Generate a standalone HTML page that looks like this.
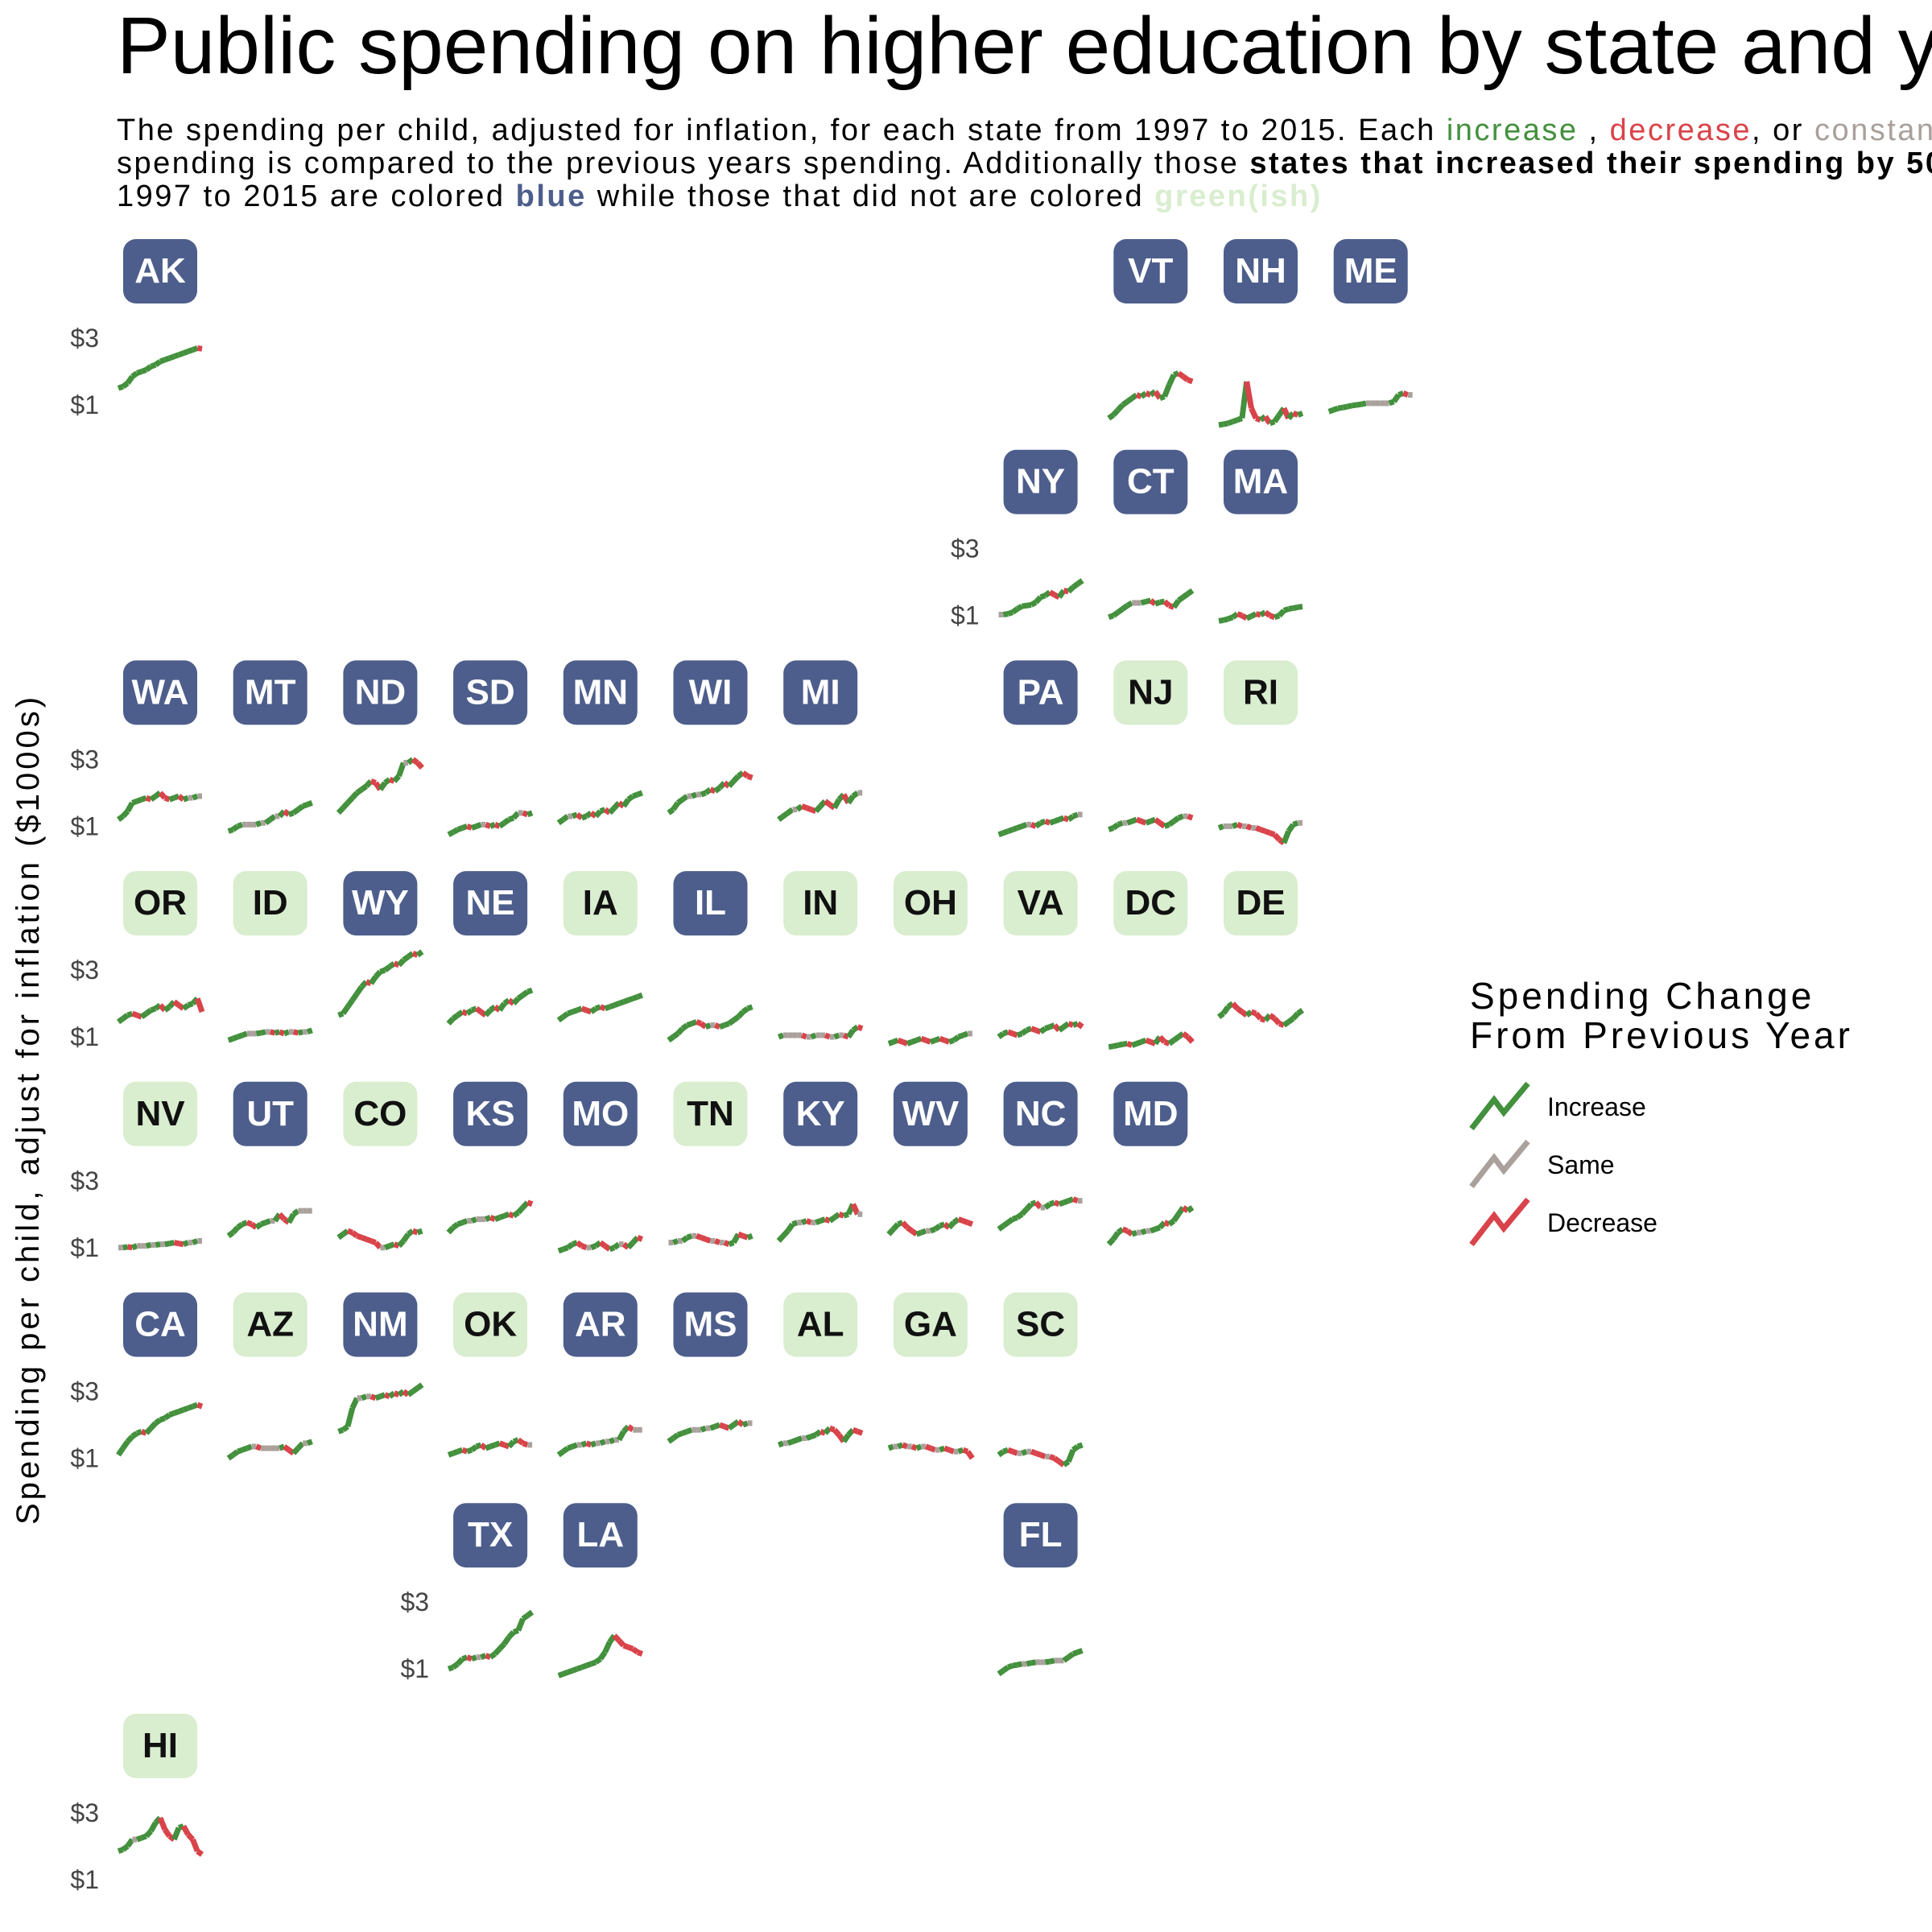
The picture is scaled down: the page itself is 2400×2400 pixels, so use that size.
<!DOCTYPE html>
<html><head><meta charset="utf-8">
<style>
html,body{margin:0;padding:0;background:#fff;}
body{width:2400px;height:2400px;overflow:hidden;position:relative;font-family:"Liberation Sans",sans-serif;}
#title{position:absolute;left:145px;top:0px;width:2255px;overflow:hidden;font-size:100px;white-space:nowrap;color:#000;}
#sub{position:absolute;left:145px;top:142px;width:2255px;overflow:hidden;font-size:38px;letter-spacing:2.5px;line-height:41px;white-space:nowrap;color:#000;}
svg{position:absolute;left:0;top:0;}
</style></head>
<body>
<div id="title">Public spending on higher education by state and year</div>
<div id="sub">The spending per child, adjusted for inflation, for each state from 1997 to 2015. Each <span style="color:#43903d">increase</span> , <span style="color:#d9434a">decrease</span>, or <span style="color:#a9a09b">constant</span><br>spending is compared to the previous years spending. Additionally those <b>states that increased their spending by 50% from</b><br>1997 to 2015 are colored <b style="color:#4d5e8c">blue</b> while those that did not are colored <b style="color:#d9edcf">green(ish)</b></div>
<svg id="chart" width="2400" height="2400"></svg>
<script>
const years = [1997,1998,1999,2000,2001,2002,2003,2004,2005,2006,2007,2008,2009,2010,2011,2012,2013,2014,2015];
const yTicks = [1,3];
const tickLabels = ["$1","$3"];
const states = ["AK","VT","NH","ME","NY","CT","MA","WA","MT","ND","SD","MN","WI","MI","PA","NJ","RI","OR","ID","WY","NE","IA","IL","IN","OH","VA","DC","DE","NV","UT","CO","KS","MO","TN","KY","WV","NC","MD","CA","AZ","NM","OK","AR","MS","AL","GA","SC","TX","LA","FL","HI"];
const gridRow = [0,0,0,0,1,1,1,2,2,2,2,2,2,2,2,2,2,3,3,3,3,3,3,3,3,3,3,3,4,4,4,4,4,4,4,4,4,4,5,5,5,5,5,5,5,5,5,6,6,6,7];
const gridCol = [0,9,10,11,8,9,10,0,1,2,3,4,5,6,8,9,10,0,1,2,3,4,5,6,7,8,9,10,0,1,2,3,4,5,6,7,8,9,0,1,2,3,4,5,6,7,8,3,4,8,0];
const grewFifty = [1,1,1,1,1,1,1,1,1,1,1,1,1,1,1,0,0,0,0,1,1,0,1,0,0,0,0,0,0,1,0,1,1,0,1,1,1,1,1,0,1,0,1,1,0,0,0,1,1,1,0];
const showTicks = [1,0,0,0,1,0,0,1,0,0,0,0,0,0,0,0,0,1,0,0,0,0,0,0,0,0,0,0,1,0,0,0,0,0,0,0,0,0,1,0,0,0,0,0,0,0,0,1,0,0,1];
const spending = {
AK:[1.5,1.55,1.65,1.85,1.95,2.0,2.05,2.15,2.2,2.3,2.35,2.4,2.45,2.5,2.55,2.6,2.65,2.7,2.68],
VT:[0.6,0.7,0.85,1.0,1.1,1.2,1.3,1.25,1.35,1.3,1.4,1.2,1.25,1.6,1.9,1.95,1.85,1.75,1.7],
NH:[0.4,0.42,0.45,0.5,0.55,0.6,1.7,0.9,0.6,0.55,0.65,0.45,0.5,0.7,0.9,0.6,0.75,0.7,0.75],
ME:[0.8,0.85,0.9,0.92,0.95,0.98,1.0,1.02,1.05,1.05,1.05,1.05,1.05,1.05,1.1,1.3,1.35,1.3,1.3],
NY:[1.03,1.03,1.05,1.1,1.2,1.28,1.3,1.32,1.4,1.55,1.6,1.7,1.62,1.55,1.75,1.72,1.85,1.95,2.05],
CT:[0.95,1.0,1.1,1.2,1.3,1.38,1.38,1.38,1.42,1.45,1.35,1.4,1.42,1.3,1.25,1.45,1.55,1.65,1.75],
MA:[0.84,0.86,0.9,0.95,1.05,1.0,0.92,0.98,1.05,1.02,1.1,1.0,0.95,1.0,1.15,1.2,1.22,1.25,1.27],
WA:[1.2,1.3,1.45,1.7,1.75,1.8,1.85,1.8,1.9,2.0,1.85,1.8,1.85,1.9,1.8,1.85,1.85,1.9,1.9],
MT:[0.85,0.9,1.0,1.05,1.05,1.05,1.05,1.1,1.1,1.2,1.3,1.3,1.45,1.35,1.4,1.5,1.6,1.65,1.7],
ND:[1.4,1.55,1.7,1.85,2.0,2.1,2.2,2.35,2.3,2.1,2.3,2.4,2.35,2.5,2.9,2.9,3.0,2.9,2.75],
SD:[0.75,0.82,0.9,0.95,1.0,0.95,1.0,1.05,1.05,1.0,1.05,1.0,1.1,1.2,1.25,1.4,1.4,1.35,1.4],
MN:[1.1,1.2,1.3,1.3,1.35,1.25,1.3,1.4,1.3,1.45,1.5,1.4,1.55,1.7,1.6,1.8,1.9,1.95,2.0],
WI:[1.4,1.5,1.7,1.8,1.9,1.9,1.95,1.95,2.0,2.1,2.05,2.15,2.3,2.2,2.35,2.5,2.6,2.5,2.45],
MI:[1.2,1.3,1.4,1.5,1.5,1.6,1.55,1.5,1.45,1.6,1.75,1.65,1.55,1.8,1.95,1.7,1.9,2.0,2.0],
PA:[0.75,0.8,0.85,0.9,0.95,1.0,1.05,1.05,1.0,1.1,1.15,1.1,1.15,1.2,1.25,1.2,1.3,1.35,1.35],
NJ:[0.9,0.95,1.05,1.1,1.1,1.15,1.2,1.15,1.1,1.15,1.2,1.1,1.0,1.05,1.15,1.25,1.3,1.3,1.25],
RI:[0.95,1.0,1.0,1.0,1.05,1.0,1.0,0.95,0.95,0.9,0.85,0.8,0.75,0.6,0.5,0.85,1.05,1.1,1.1],
OR:[1.45,1.55,1.65,1.7,1.65,1.6,1.7,1.8,1.85,1.95,1.8,1.9,2.05,1.95,1.85,1.95,2.0,2.15,1.75],
ID:[0.9,0.95,1.0,1.05,1.1,1.1,1.1,1.12,1.15,1.15,1.12,1.15,1.1,1.15,1.15,1.12,1.15,1.15,1.2],
WY:[1.65,1.7,1.9,2.1,2.3,2.5,2.65,2.6,2.8,2.95,3.0,3.1,3.2,3.15,3.3,3.4,3.5,3.45,3.55],
NE:[1.4,1.55,1.65,1.75,1.7,1.8,1.85,1.75,1.65,1.8,1.9,1.8,2.0,2.1,2.0,2.15,2.25,2.35,2.4],
IA:[1.5,1.6,1.7,1.75,1.8,1.85,1.8,1.75,1.85,1.9,1.85,1.9,1.95,2.0,2.05,2.1,2.15,2.2,2.25],
IL:[0.9,1.0,1.1,1.25,1.35,1.4,1.45,1.4,1.3,1.35,1.35,1.3,1.35,1.4,1.5,1.6,1.75,1.85,1.9],
IN:[1.0,1.05,1.05,1.05,1.05,1.05,1.0,1.0,1.05,1.05,1.05,1.0,1.0,1.05,1.05,1.0,1.2,1.3,1.25],
OH:[0.8,0.85,0.9,0.85,0.8,0.85,0.9,0.95,0.9,0.85,0.9,0.95,0.9,0.85,0.9,1.0,1.05,1.1,1.1],
VA:[1.0,1.1,1.15,1.1,1.05,1.1,1.2,1.25,1.2,1.15,1.25,1.3,1.35,1.2,1.3,1.4,1.35,1.4,1.3],
DC:[0.7,0.72,0.75,0.78,0.8,0.75,0.8,0.85,0.9,0.85,0.8,1.0,0.85,0.8,0.9,1.0,1.1,1.0,0.85],
DE:[1.6,1.7,1.9,2.0,1.85,1.75,1.65,1.75,1.7,1.55,1.5,1.65,1.55,1.4,1.35,1.45,1.55,1.7,1.8],
NV:[1.0,1.0,1.02,1.0,1.05,1.05,1.05,1.08,1.08,1.1,1.1,1.12,1.15,1.12,1.1,1.15,1.15,1.2,1.2],
UT:[1.35,1.45,1.6,1.7,1.75,1.7,1.6,1.7,1.75,1.8,1.8,2.0,1.85,1.75,2.0,2.1,2.1,2.1,2.1],
CO:[1.3,1.4,1.5,1.45,1.35,1.3,1.25,1.2,1.15,1.0,1.0,1.05,1.1,1.05,1.2,1.4,1.5,1.45,1.5],
KS:[1.45,1.6,1.7,1.75,1.8,1.8,1.85,1.85,1.85,1.9,1.85,1.9,1.95,2.0,1.95,2.05,2.2,2.35,2.3],
MO:[0.9,0.95,1.0,1.1,1.15,1.05,1.0,1.0,1.05,1.15,1.05,0.95,1.0,1.1,1.1,1.0,1.15,1.3,1.25],
TN:[1.15,1.15,1.2,1.2,1.3,1.35,1.35,1.3,1.25,1.2,1.2,1.15,1.15,1.1,1.15,1.4,1.35,1.3,1.35],
KY:[1.2,1.35,1.5,1.7,1.75,1.75,1.8,1.75,1.75,1.8,1.85,1.8,1.9,2.0,1.95,2.0,2.3,2.0,2.0],
WV:[1.4,1.55,1.7,1.75,1.6,1.5,1.4,1.45,1.5,1.5,1.55,1.65,1.7,1.6,1.75,1.85,1.8,1.75,1.7],
NC:[1.55,1.65,1.75,1.85,1.9,2.0,2.15,2.3,2.35,2.2,2.2,2.3,2.35,2.3,2.35,2.4,2.45,2.4,2.4],
MD:[1.1,1.25,1.45,1.55,1.5,1.4,1.45,1.45,1.5,1.5,1.55,1.6,1.75,1.7,1.8,2.0,2.2,2.1,2.2],
CA:[1.1,1.3,1.5,1.65,1.75,1.8,1.75,1.9,2.05,2.15,2.2,2.3,2.35,2.4,2.45,2.5,2.55,2.6,2.55],
AZ:[1.0,1.1,1.2,1.25,1.3,1.35,1.35,1.3,1.3,1.3,1.3,1.3,1.35,1.25,1.15,1.3,1.45,1.45,1.5],
NM:[1.8,1.85,1.95,2.5,2.8,2.8,2.85,2.85,2.8,2.85,2.9,2.85,2.95,2.9,3.0,2.9,3.0,3.1,3.2],
OK:[1.1,1.15,1.2,1.25,1.2,1.25,1.35,1.4,1.3,1.35,1.4,1.45,1.4,1.35,1.5,1.55,1.45,1.4,1.4],
AR:[1.1,1.2,1.3,1.35,1.4,1.4,1.45,1.4,1.45,1.45,1.5,1.5,1.55,1.55,1.8,1.95,1.85,1.85,1.85],
MS:[1.5,1.6,1.7,1.75,1.8,1.85,1.85,1.85,1.9,1.9,1.95,2.0,1.95,1.9,2.0,2.1,2.0,2.05,2.05],
AL:[1.4,1.45,1.45,1.5,1.55,1.6,1.6,1.65,1.7,1.8,1.75,1.9,1.85,1.7,1.5,1.7,1.85,1.8,1.75],
GA:[1.3,1.35,1.35,1.4,1.35,1.35,1.3,1.35,1.35,1.3,1.25,1.25,1.3,1.25,1.2,1.2,1.25,1.2,1.0],
SC:[1.1,1.2,1.25,1.2,1.15,1.15,1.2,1.2,1.15,1.1,1.05,1.05,1.0,0.9,0.8,0.9,1.25,1.35,1.4],
TX:[1.0,1.05,1.15,1.3,1.35,1.3,1.35,1.35,1.4,1.35,1.45,1.6,1.75,1.95,2.1,2.15,2.5,2.6,2.7],
LA:[0.8,0.85,0.9,0.95,1.0,1.05,1.1,1.15,1.2,1.3,1.5,1.8,2.0,1.85,1.7,1.65,1.6,1.5,1.45],
FL:[0.85,0.95,1.05,1.1,1.12,1.15,1.15,1.18,1.2,1.2,1.2,1.22,1.25,1.25,1.25,1.35,1.45,1.5,1.55],
HI:[1.85,1.9,2.0,2.2,2.2,2.25,2.3,2.45,2.7,2.85,2.5,2.3,2.2,2.55,2.6,2.35,2.2,1.85,1.75]
};

const NS = "http://www.w3.org/2000/svg";
const svg = document.getElementById('chart');
const GREEN = "#43903d", RED = "#d9434a", GREY = "#aaa19c";
const colX = c => 199 + c * 136.7;
const rowY = r => 337 + r * 261.7;
const xPos = (cx, i) => cx - 52 + i * (104 / (years.length - 1));
const yPos = (ly, v) => ly + 166 - (v - 1) * 41.5;

function mk(tag, attrs) {
  const el = document.createElementNS(NS, tag);
  for (const k in attrs) el.setAttribute(k, attrs[k]);
  svg.appendChild(el);
  return el;
}

states.forEach((st, s) => {
  const cx = colX(gridCol[s]);
  const ly = rowY(gridRow[s]);
  const blue = grewFifty[s] === 1;
  const box = mk('rect', {x: cx - 46, y: ly - 40, width: 92, height: 80, rx: 16, fill: blue ? "#4d5e8c" : "#d9edcf"});
  
  
  const t = mk('text', {x: cx, y: ly + 14, 'text-anchor': 'middle', 'font-size': 44, 'font-weight': 'bold', fill: blue ? "#fff" : "#111", 'font-family': '"Liberation Sans", sans-serif'});
  t.textContent = st;
  
  
  const vals = spending[st];
  for (let i = 1; i < vals.length; i++) {
    const d = vals[i] - vals[i - 1];
    const col = Math.abs(d) < 0.015 ? GREY : (d > 0 ? GREEN : RED);
    const seg = mk('line', {x1: xPos(cx, i - 1), y1: yPos(ly, vals[i - 1]), x2: xPos(cx, i), y2: yPos(ly, vals[i]), stroke: col, 'stroke-width': 7, 'stroke-linecap': 'butt'});
    
    
  }
  if (showTicks[s]) {
    yTicks.forEach((v, k) => {
      const tl = mk('text', {x: cx - 76, y: yPos(ly, v) + 11, 'text-anchor': 'end', 'font-size': 32, fill: '#444', 'font-family': '"Liberation Sans", sans-serif'});
      tl.textContent = tickLabels[k];
      
      
    });
  }
});

const yt = mk('text', {x: 0, y: 0, transform: 'translate(48,1378) rotate(-90)', 'text-anchor': 'middle', 'font-size': 40, 'letter-spacing': 4, fill: '#000', 'font-family': '"Liberation Sans", sans-serif'});
yt.textContent = "Spending per child, adjust for inflation ($1000s)";



const lt1 = mk('text', {x: 1826, y: 1253, 'font-size': 46, 'letter-spacing': 4, fill: '#000', 'font-family': '"Liberation Sans", sans-serif'});
lt1.textContent = "Spending Change";


const lt2 = mk('text', {x: 1826, y: 1302, 'font-size': 46, 'letter-spacing': 4, fill: '#000', 'font-family': '"Liberation Sans", sans-serif'});
lt2.textContent = "From Previous Year";


const legendNames = ["Increase", "Same", "Decrease"];
const legendCols = [GREEN, GREY, RED];
legendNames.forEach((nm, k) => {
  const oy = k * 72;
  const p = mk('polyline', {points: `1828,${1402+oy} 1856,${1366+oy} 1868,${1382+oy} 1898,${1346+oy}`, fill: 'none', stroke: legendCols[k], 'stroke-width': 7});
  
  
  const tx = mk('text', {x: 1922, y: 1386 + oy, 'font-size': 32, fill: '#000', 'font-family': '"Liberation Sans", sans-serif'});
  tx.textContent = nm;
  
  
});
</script>
</body></html>
